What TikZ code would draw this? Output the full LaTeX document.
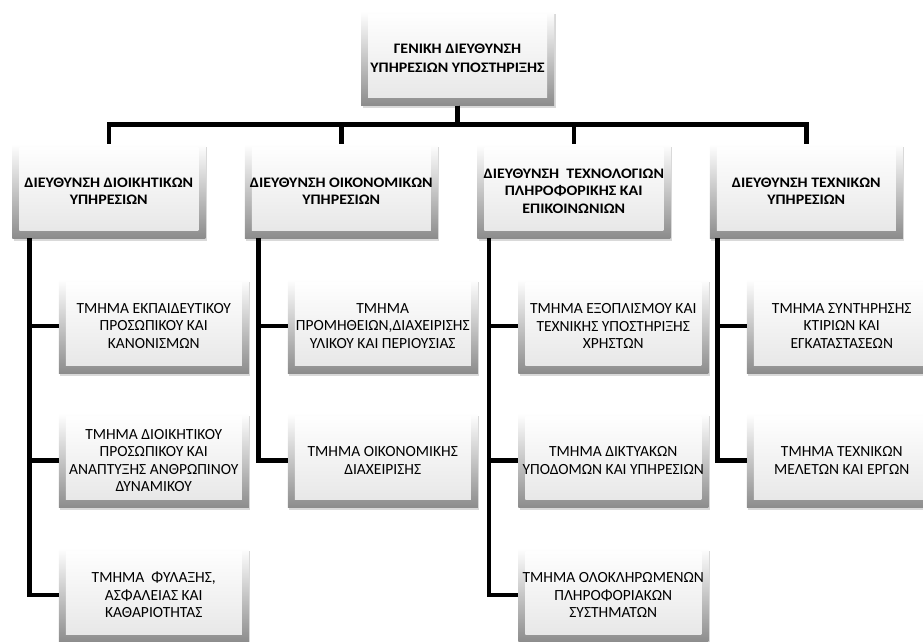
\documentclass[tikz,border=0pt]{standalone}
\usepackage{fontspec}
\setmainfont{Carlito}
\newfontfamily\headfont[FakeStretch=1.1]{Carlito}
\usetikzlibrary{trees,calc,shadows}

\tikzset{
  box/.style={minimum width=190pt, minimum height=94pt, inner sep=2pt, align=center,
    top color=white, bottom color=black!45,
    drop shadow={shadow xshift=1.5pt, shadow yshift=-2.5pt, opacity=.3},
    path picture={\shade[top color=white, bottom color=black!10]
      ([xshift=7pt,yshift=-3pt]path picture bounding box.north west) rectangle
      ([xshift=-7pt,yshift=8pt]path picture bounding box.south east);}},
  head/.style={box, minimum width=193pt, font=\headfont\bfseries\fontsize{14.5}{17.5}\selectfont},
  unit/.style={box, font=\fontsize{15.5}{17.6}\selectfont}
}

\begin{document}
\begin{tikzpicture}[x=1pt, y=1pt,
  level distance=132.5pt,
  edge from parent/.style={draw, line width=4.5pt},
  level 1/.style={sibling distance=232.5pt,
    edge from parent path={(\tikzparentnode.south) -- +(0,-19) -| (\tikzchildnode.north)}},
  level 2/.style={grow via three points={one child at (40,-135) and two children at (40,-135) and (40,-269.5)},
    edge from parent path={($(\tikzparentnode.south -| \tikzchildnode.west)+(-29,0)$) |- (\tikzchildnode.west)}}]
  \useasboundingbox (0,0) rectangle (923,-641);
  \node[head, font=\headfont\bfseries\fontsize{14.5}{19.3}\selectfont] (gd) at (457.5,-58.5) {ΓΕΝΙΚΗ ΔΙΕΥΘΥΝΣΗ\\ΥΠΗΡΕΣΙΩΝ ΥΠΟΣΤΗΡΙΞΗΣ}
    child {node[head] (dy) {ΔΙΕΥΘΥΝΣΗ ΔΙΟΙΚΗΤΙΚΩΝ\\ΥΠΗΡΕΣΙΩΝ}
      child {node[unit, xshift=5pt] (dy1) {ΤΜΗΜΑ ΕΚΠΑΙΔΕΥΤΙΚΟΥ\\ΠΡΟΣΩΠΙΚΟΥ ΚΑΙ\\ΚΑΝΟΝΙΣΜΩΝ}}
      child {node[unit, xshift=5pt] (dy2) {ΤΜΗΜΑ ΔΙΟΙΚΗΤΙΚΟΥ\\ΠΡΟΣΩΠΙΚΟΥ ΚΑΙ\\ΑΝΑΠΤΥΞΗΣ ΑΝΘΡΩΠΙΝΟΥ\\ΔΥΝΑΜΙΚΟΥ}}
      child {node[unit, xshift=5pt] (dy3) {ΤΜΗΜΑ~ ΦΥΛΑΞΗΣ,\\ΑΣΦΑΛΕΙΑΣ ΚΑΙ\\ΚΑΘΑΡΙΟΤΗΤΑΣ}}
    }
    child {node[head] (do) {ΔΙΕΥΘΥΝΣΗ ΟΙΚΟΝΟΜΙΚΩΝ\\ΥΠΗΡΕΣΙΩΝ}
      child {node[unit, xshift=1.5pt] (do1) {ΤΜΗΜΑ\\ΠΡΟΜΗΘΕΙΩΝ,ΔΙΑΧΕΙΡΙΣΗΣ\\ΥΛΙΚΟΥ ΚΑΙ ΠΕΡΙΟΥΣΙΑΣ}}
      child {node[unit, xshift=1.5pt] (do2) {ΤΜΗΜΑ ΟΙΚΟΝΟΜΙΚΗΣ\\ΔΙΑΧΕΙΡΙΣΗΣ}}
    }
    child {node[head] (dt) {ΔΙΕΥΘΥΝΣΗ~ ΤΕΧΝΟΛΟΓΙΩΝ\\ΠΛΗΡΟΦΟΡΙΚΗΣ ΚΑΙ\\ΕΠΙΚΟΙΝΩΝΙΩΝ}
      child {node[unit, xshift=-0.5pt] (dt1) {ΤΜΗΜΑ ΕΞΟΠΛΙΣΜΟΥ ΚΑΙ\\ΤΕΧΝΙΚΗΣ ΥΠΟΣΤΗΡΙΞΗΣ\\ΧΡΗΣΤΩΝ}}
      child {node[unit, xshift=-0.5pt] (dt2) {ΤΜΗΜΑ ΔΙΚΤΥΑΚΩΝ\\ΥΠΟΔΟΜΩΝ ΚΑΙ ΥΠΗΡΕΣΙΩΝ}}
      child {node[unit, xshift=-0.5pt] (dt3) {ΤΜΗΜΑ ΟΛΟΚΛΗΡΩΜΕΝΩΝ\\ΠΛΗΡΟΦΟΡΙΑΚΩΝ\\ΣΥΣΤΗΜΑΤΩΝ}}
    }
    child {node[head] (dx) {ΔΙΕΥΘΥΝΣΗ ΤΕΧΝΙΚΩΝ\\ΥΠΗΡΕΣΙΩΝ}
      child {node[unit, xshift=-4.5pt] (dx1) {ΤΜΗΜΑ ΣΥΝΤΗΡΗΣΗΣ\\ΚΤΙΡΙΩΝ ΚΑΙ\\ΕΓΚΑΤΑΣΤΑΣΕΩΝ}}
      child {node[unit, xshift=-4.5pt] (dx2) {ΤΜΗΜΑ ΤΕΧΝΙΚΩΝ\\ΜΕΛΕΤΩΝ ΚΑΙ ΕΡΓΩΝ}}
    };
\end{tikzpicture}
\end{document}
